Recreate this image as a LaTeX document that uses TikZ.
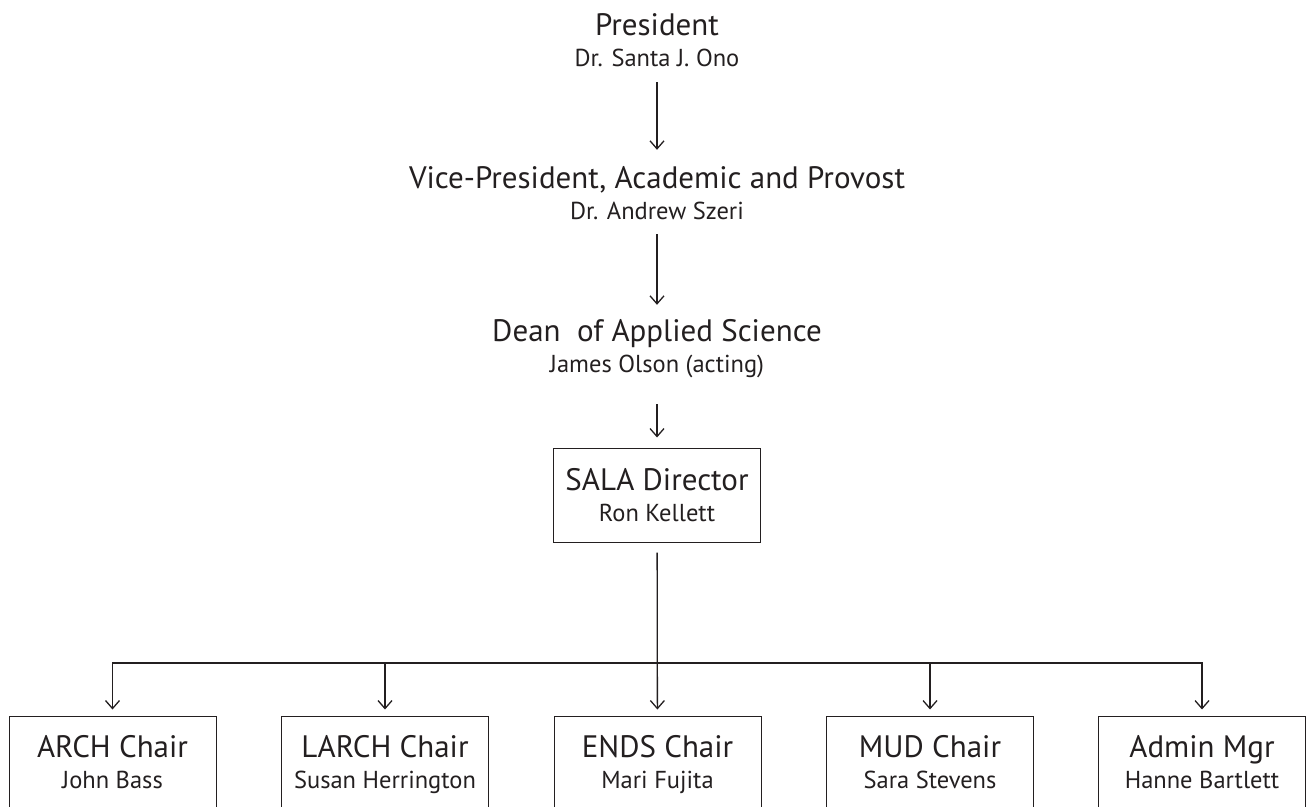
\documentclass[tikz,border=0pt]{standalone}
\usepackage{fontspec}
\setmainfont{PT Sans}
\usetikzlibrary{arrows.meta}
\definecolor{ink}{HTML}{231F20}
\newcommand{\who}{\fontsize{24.5}{31}\selectfont}
\begin{document}
\begin{tikzpicture}[x=1pt,y=-1pt,>={Straight Barb[length=8pt,width=14pt]},
  title/.style={align=center,inner sep=0pt,text=ink,text height=54pt,text depth=2pt,
    font=\fontsize{31}{31}\selectfont},
  chart/.style={title,draw=ink,line width=1pt,minimum width=207pt,minimum height=92pt},
  link/.style={->,ink,line width=1.3pt,shorten <=14pt,shorten >=15pt}]
\useasboundingbox (0,0) rectangle (1311,806);
\node[title] (pres) at (657,40) {President\\\who Dr. Santa J. Ono};
\node[title] (vp) at (657,193) {Vice-President, Academic and Provost\\\who Dr. Andrew Szeri};
\node[title] (dean) at (657,346) {Dean\ \ of Applied Science\\\who James Olson (acting)};
\node[chart,minimum height=94pt] (sala) at (657,495) {SALA Director\\\who Ron Kellett};
\node[chart] (arch) at (112.5,762) {ARCH Chair\\\who John Bass};
\node[chart] (larch) at (385,762) {LARCH Chair\\\who Susan Herrington};
\node[chart] (ends) at (657.5,762) {ENDS Chair\\\who Mari Fujita};
\node[chart] (mud) at (930,762) {MUD Chair\\\who Sara Stevens};
\node[chart] (admin) at (1202,762) {Admin Mgr\\\who Hanne Bartlett};
\coordinate (split) at (657,663);
\draw[link] (pres) -- (vp);
\draw[link,shorten <=13pt,shorten >=13pt] (vp) -- (dean);
\draw[link,shorten <=30pt,shorten >=10pt] (dean) -- (sala);
\draw[link,shorten <=10pt,shorten >=6pt] (sala) -- (ends);
\draw[link,shorten <=0pt,shorten >=6pt] (split) -| (arch);
\draw[link,shorten <=0pt,shorten >=6pt] (split) -| (admin);
\draw[link,shorten <=0pt,shorten >=6pt] (split -| larch) -- (larch);
\draw[link,shorten <=0pt,shorten >=6pt] (split -| mud) -- (mud);
\end{tikzpicture}
\end{document}
